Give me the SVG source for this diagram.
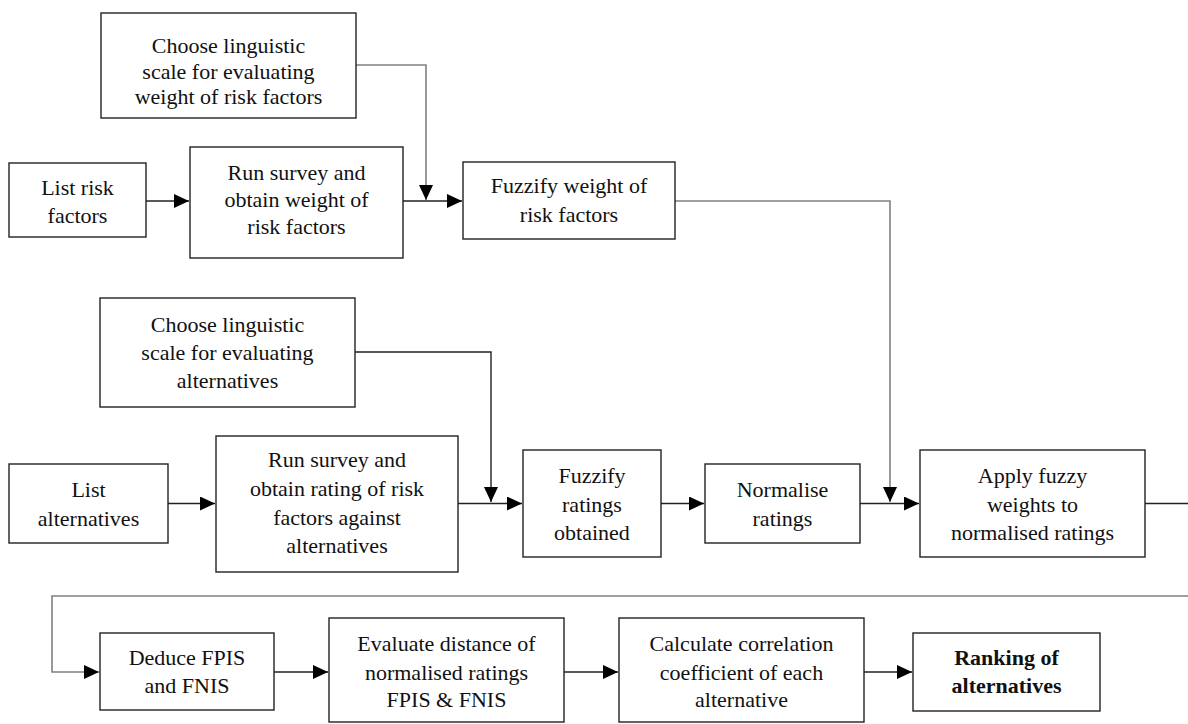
<svg xmlns="http://www.w3.org/2000/svg" width="1188" height="724" viewBox="0 0 1188 724">
<style>
.box{fill:#fff;stroke:#222;stroke-width:1.4}
.t{font-family:'Liberation Serif','Times New Roman',serif;font-size:22px;fill:#111;text-anchor:middle}
.b{font-weight:bold}
.c{fill:none;stroke:#222;stroke-width:1.4}
.g{fill:none;stroke:#808080;stroke-width:1.6}
</style>
<defs>
<marker id="ah" markerUnits="userSpaceOnUse" markerWidth="16" markerHeight="14" refX="15" refY="7" orient="auto">
<path d="M0,0 L15,7 L0,14 z" fill="#000"/>
</marker>
</defs>
<rect width="1188" height="724" fill="#fff"/>
<g id="connectors">
<path class="c" d="M146,201 H189" marker-end="url(#ah)"/>
<path class="c" d="M403,201 H462" marker-end="url(#ah)"/>
<path class="g" d="M356,65 H426 V200" marker-end="url(#ah)"/>
<path class="g" d="M675,201 H890 V502" marker-end="url(#ah)"/>
<path class="c" d="M355,352 H491 V502" marker-end="url(#ah)"/>
<path class="c" d="M168,503.5 H215" marker-end="url(#ah)"/>
<path class="c" d="M458,503.5 H522" marker-end="url(#ah)"/>
<path class="c" d="M661,503.5 H704" marker-end="url(#ah)"/>
<path class="c" d="M860,503.5 H919" marker-end="url(#ah)"/>
<path class="c" d="M1145,503.5 H1188"/>
<path class="g" d="M1188,596 H52 V672 H99" marker-end="url(#ah)"/>
<path class="c" d="M274,672 H328" marker-end="url(#ah)"/>
<path class="c" d="M564,672 H618" marker-end="url(#ah)"/>
<path class="c" d="M864,672 H912" marker-end="url(#ah)"/>
</g>
<g id="n_choose_weight">
<rect class="box" x="101" y="13" width="255" height="105"/>
<text class="t" x="228.5" y="53">Choose linguistic</text>
<text class="t" x="228.5" y="79">scale for evaluating</text>
<text class="t" x="228.5" y="104">weight of risk factors</text>
</g>
<g id="n_list_risk">
<rect class="box" x="9" y="163" width="137" height="74"/>
<text class="t" x="77.5" y="195">List risk</text>
<text class="t" x="77.5" y="223">factors</text>
</g>
<g id="n_survey_weight">
<rect class="box" x="190" y="147" width="213" height="111"/>
<text class="t" x="296.5" y="180">Run survey and</text>
<text class="t" x="296.5" y="207">obtain weight of</text>
<text class="t" x="296.5" y="234">risk factors</text>
</g>
<g id="n_fuzzify_weight">
<rect class="box" x="463" y="162" width="212" height="77"/>
<text class="t" x="569" y="193">Fuzzify weight of</text>
<text class="t" x="569" y="222">risk factors</text>
</g>
<g id="n_choose_alt">
<rect class="box" x="100" y="298" width="255" height="109"/>
<text class="t" x="227.5" y="332">Choose linguistic</text>
<text class="t" x="227.5" y="360">scale for evaluating</text>
<text class="t" x="227.5" y="388">alternatives</text>
</g>
<g id="n_list_alt">
<rect class="box" x="9" y="464" width="159" height="79"/>
<text class="t" x="88.5" y="497">List</text>
<text class="t" x="88.5" y="526">alternatives</text>
</g>
<g id="n_survey_rating">
<rect class="box" x="216" y="436" width="242" height="136"/>
<text class="t" x="337" y="467">Run survey and</text>
<text class="t" x="337" y="496">obtain rating of risk</text>
<text class="t" x="337" y="525">factors against</text>
<text class="t" x="337" y="553">alternatives</text>
</g>
<g id="n_fuzzify_ratings">
<rect class="box" x="523" y="450" width="138" height="107"/>
<text class="t" x="592" y="483">Fuzzify</text>
<text class="t" x="592" y="512">ratings</text>
<text class="t" x="592" y="540">obtained</text>
</g>
<g id="n_normalise">
<rect class="box" x="705" y="464" width="155" height="79"/>
<text class="t" x="782.5" y="497">Normalise</text>
<text class="t" x="782.5" y="526">ratings</text>
</g>
<g id="n_apply">
<rect class="box" x="920" y="450" width="225" height="107"/>
<text class="t" x="1032.5" y="483">Apply fuzzy</text>
<text class="t" x="1032.5" y="512">weights to</text>
<text class="t" x="1032.5" y="540">normalised ratings</text>
</g>
<g id="n_deduce">
<rect class="box" x="100" y="633" width="174" height="77"/>
<text class="t" x="187" y="665">Deduce FPIS</text>
<text class="t" x="187" y="693">and FNIS</text>
</g>
<g id="n_evaluate">
<rect class="box" x="329" y="618" width="235" height="104"/>
<text class="t" x="446.5" y="651">Evaluate distance of</text>
<text class="t" x="446.5" y="680">normalised ratings</text>
<text class="t" x="446.5" y="707">FPIS &amp; FNIS</text>
</g>
<g id="n_calculate">
<rect class="box" x="619" y="618" width="245" height="104"/>
<text class="t" x="741.5" y="651">Calculate correlation</text>
<text class="t" x="741.5" y="680">coefficient of each</text>
<text class="t" x="741.5" y="707">alternative</text>
</g>
<g id="n_ranking">
<rect class="box" x="913" y="633" width="187" height="78"/>
<text class="t b" x="1006.5" y="665">Ranking of</text>
<text class="t b" x="1006.5" y="693">alternatives</text>
</g>
</svg>
